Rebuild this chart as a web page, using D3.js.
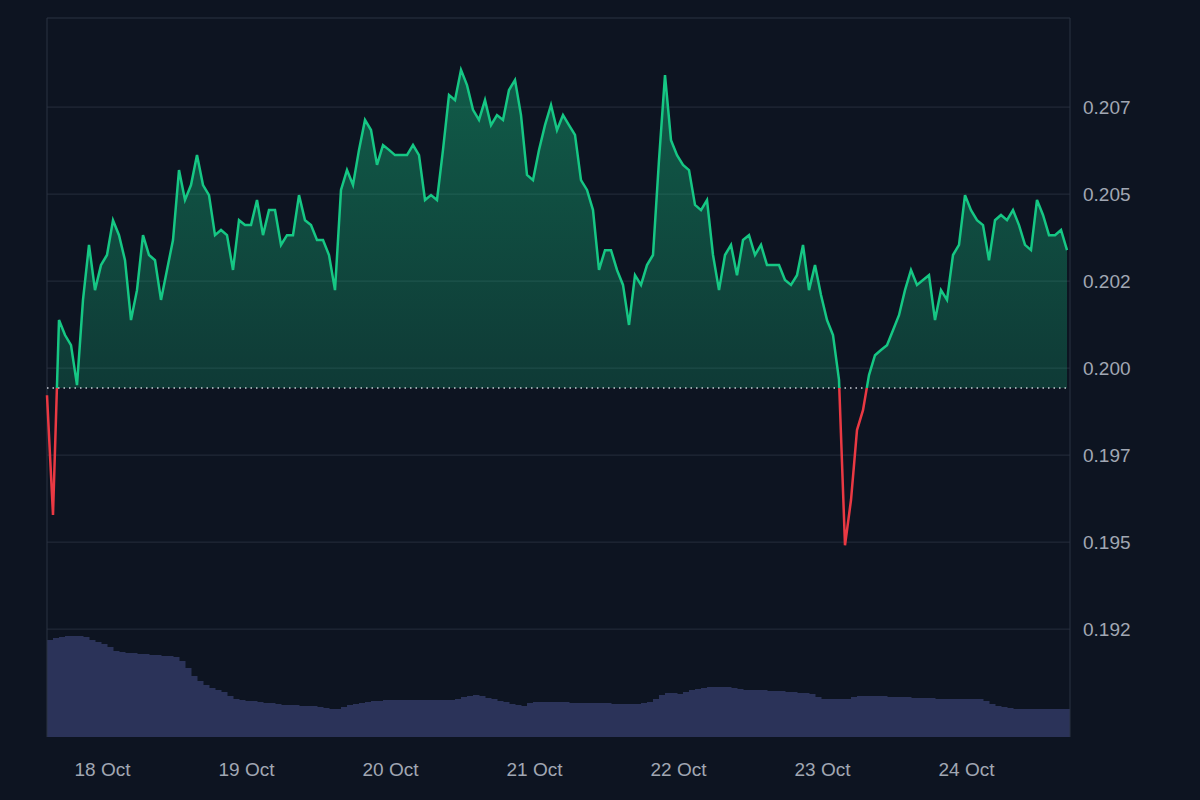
<!DOCTYPE html>
<html><head><meta charset="utf-8">
<script src="https://cdn.jsdelivr.net/npm/d3@7"></script>
<style>body{margin:0;background:#0d1421}</style></head>
<body><svg id="canvas" width="1200" height="800"></svg>
<script>
// hourly prices starting 17 Oct 14:45
let startTime = new Date(2023, 9, 17, 14, 45)
let prices = [0.19922,0.19578,0.20138,0.20095,0.20066,0.19951,0.20196,0.20354,0.20224,0.20296,
0.20325,0.20425,0.20382,0.20310,0.20138,0.20224,0.20382,0.20325,0.20310,0.20196,
0.20282,0.20368,0.20569,0.20483,0.20526,0.20612,0.20526,0.20497,0.20382,0.20397,
0.20382,0.20282,0.20425,0.20411,0.20411,0.20483,0.20382,0.20454,0.20454,0.20354,
0.20382,0.20382,0.20497,0.20425,0.20411,0.20368,0.20368,0.20325,0.20224,0.20512,
0.20569,0.20526,0.20627,0.20713,0.20684,0.20584,0.20641,0.20627,0.20612,0.20612,
0.20612,0.20641,0.20612,0.20483,0.20497,0.20483,0.20627,0.20785,0.20770,0.20857,
0.20813,0.20742,0.20713,0.20770,0.20698,0.20727,0.20713,0.20799,0.20828,0.20727,
0.20555,0.20540,0.20627,0.20698,0.20756,0.20684,0.20727,0.20698,0.20670,0.20540,
0.20512,0.20454,0.20282,0.20339,0.20339,0.20282,0.20239,0.20124,0.20267,0.20239,
0.20296,0.20325,0.20598,0.20842,0.20655,0.20612,0.20584,0.20569,0.20469,0.20454,
0.20483,0.20325,0.20224,0.20325,0.20354,0.20267,0.20368,0.20382,0.20325,0.20354,
0.20296,0.20296,0.20296,0.20253,0.20239,0.20267,0.20354,0.20224,0.20296,0.20210,
0.20138,0.20095,0.19966,0.19491,0.19621,0.19822,0.19879,0.19980,0.20037,0.20052,
0.20066,0.20109,0.20152,0.20224,0.20282,0.20239,0.20253,0.20267,0.20138,0.20224,
0.20196,0.20325,0.20354,0.20497,0.20454,0.20425,0.20411,0.20310,0.20425,0.20440,
0.20425,0.20454,0.20411,0.20354,0.20339,0.20483,0.20440,0.20382,0.20382,0.20397,
0.20339]
let volumes = [97,99,100,101,101,101,100,97,95,93,90,86,85,84,84,83,83,82,82,81,81,80,76,69,61,56,52,49,47,45,
41,38,37,36,36,35,34,34,33,32,32,32,31,31,31,30,29,28,28,30,32,33,34,35,36,36,
37,37,37,37,37,37,37,37,37,37,37,37,
38,40,41,42,41,39,38,36,35,33,32,31,34,
35,35,35,35,35,35,34,34,34,34,34,34,34,33,33,33,33,33,34,
35,38,42,44,44,43,45,47,48,49,50,50,50,50,49,48,
47,47,47,47,46,46,46,45,45,44,44,43,40,38,38,38,38,38,40,41,41,41,41,41,
40,40,40,40,39,39,39,39,38,38,38,38,38,38,38,38,36,33,31,30,29,
28,28,28,28,28,28,28,28,28,28]
let baseline = 0.19943
let yTicks = [0.1925,0.195,0.1975,0.2,0.2025,0.205,0.2075]
let yTickLabels = ['0.192','0.195','0.197','0.200','0.202','0.205','0.207']
let dayTicks = [18,19,20,21,22,23,24]

let plotLeft = 47, plotRight = 1070, plotTop = 18, plotBottom = 737
let canvas = d3.select('#canvas')
let data = prices.map((p, i) => ({t: new Date(+startTime + i * 3600e3), p: p, v: volumes[i]}))

let x = d3.scaleTime().domain([data[0].t, data[data.length - 1].t]).range([plotLeft, 1067])
let y = d3.scaleLinear().domain([0.18940, 0.21006]).range([plotBottom, plotTop])
let yVol = d3.scaleLinear().domain([0, 102]).range([plotBottom, plotBottom - 102])

canvas.append('rect').attr('width', 1200).attr('height', 800).attr('fill', '#0d1421')

// grid
canvas.selectAll('.grid').data(yTicks).enter().append('line')
    .attr('x1', plotLeft).attr('x2', plotRight)
    .attr('y1', d => y(d)).attr('y2', d => y(d))
    .attr('stroke', '#262e3d').attr('stroke-width', 1)

// volume bars
let bw = (x(data[1].t) - x(data[0].t))
canvas.selectAll('.vol').data(data).enter().append('rect')
    .attr('x', d => x(d.t)).attr('width', d => Math.min(bw + 0.5, plotRight - x(d.t)))
    .attr('y', d => yVol(d.v)).attr('height', d => plotBottom - yVol(d.v))
    .attr('fill', '#2b3359')

canvas.append('path')
    .attr('d', `M${plotLeft},${plotBottom}V${plotTop}H${plotRight}V${plotBottom}`)
    .attr('fill', 'none').attr('stroke', '#2b3343')

let defs = canvas.append('defs')
let grad = defs.append('linearGradient').attr('id', 'g').attr('x1', 0).attr('x2', 0).attr('y1', 0).attr('y2', 1)
grad.append('stop').attr('offset', '0%').attr('stop-color', '#16c784').attr('stop-opacity', 0.4)
grad.append('stop').attr('offset', '100%').attr('stop-color', '#16c784').attr('stop-opacity', 0.12)
defs.append('clipPath').attr('id', 'above').append('rect')
    .attr('x', 0).attr('y', 0).attr('width', 1200).attr('height', y(baseline))
defs.append('clipPath').attr('id', 'below').append('rect')
    .attr('x', 0).attr('y', y(baseline)).attr('width', 1200).attr('height', 800)

let area = d3.area().x(d => x(d.t)).y0(y(baseline)).y1(d => y(d.p))
let line = d3.line().x(d => x(d.t)).y(d => y(d.p))

canvas.append('path').datum(data).attr('d', area)
    .attr('fill', 'url(#g)').attr('clip-path', 'url(#above)')

canvas.append('line').attr('x1', plotLeft).attr('x2', plotRight)
    .attr('y1', y(baseline)).attr('y2', y(baseline))
    .attr('stroke', '#c8ccd4').attr('stroke-dasharray', '1.5,4').attr('stroke-width', 1.5)

canvas.append('path').datum(data).attr('d', line).attr('fill', 'none')
    .attr('stroke', '#16c784').attr('stroke-width', 2.5).attr('clip-path', 'url(#above)')
canvas.append('path').datum(data).attr('d', line).attr('fill', 'none')
    .attr('stroke', '#ea3943').attr('stroke-width', 2.5).attr('clip-path', 'url(#below)')

// y labels
canvas.selectAll('.yl').data(yTicks).enter().append('text')
    .attr('x', 1083).attr('y', d => y(d) + 7)
    .text((d, i) => yTickLabels[i])
    .attr('fill', '#a1a7b3').attr('font-family', 'Liberation Sans, Arial').attr('font-size', 19)

// x labels
canvas.selectAll('.xl').data(dayTicks).enter().append('text')
    .attr('x', d => x(new Date(2023, 9, d))).attr('y', 776)
    .attr('text-anchor', 'middle')
    .text(d => d + ' Oct')
    .attr('fill', '#a1a7b3').attr('font-family', 'Liberation Sans, Arial').attr('font-size', 19)
</script></body></html>
